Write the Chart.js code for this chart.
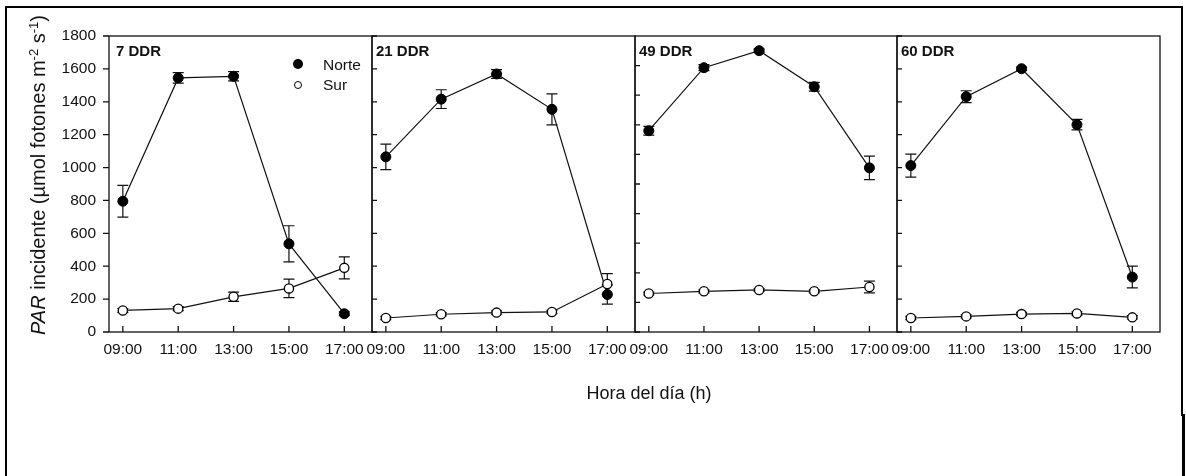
<!DOCTYPE html>
<html>
<head>
<meta charset="utf-8">
<script src="https://cdn.jsdelivr.net/npm/chart.js@4.4.1/dist/chart.umd.min.js"></script>
<style>
  body { margin: 0; background: #fff; font-family: "Liberation Sans", Arial, sans-serif; }
  #fig { position: relative; width: 1186px; height: 476px; overflow: hidden; background: #fff; }
  #fig canvas { position: absolute; left: 0; top: 0; }
  .linea { position: absolute; background: #000; }
  .etiqueta { position: absolute; color: #111; white-space: nowrap; line-height: 1; }
  .panel { font-weight: bold; font-size: 15px; top: 43px; }
  #ytitle { left: 38px; top: 175px; font-size: 20px; transform: translate(-50%, -50%) rotate(-90deg); }
  #ytitle sup { font-size: 0.65em; position: relative; top: -0.55em; vertical-align: baseline; }
  #xtitle { left: 649px; top: 384px; font-size: 18px; transform: translateX(-50%); }
  .ley { font-size: 15.5px; left: 323px; }
  .punto { position: absolute; border-radius: 50%; box-sizing: border-box; }
</style>
</head>
<body>
<div id="fig">
  <div class="linea" style="left:5px; top:6px; width:1178px; height:2px;"></div>
  <div class="linea" style="left:5px; top:6px; width:2px; height:470px;"></div>
  <div class="linea" style="left:1181px; top:6px; width:2px; height:410px;"></div>
  <div class="linea" style="left:1182px; top:414px; width:3px; height:62px;"></div>
  <canvas id="p0" width="1186" height="476"></canvas>
  <canvas id="p1" width="1186" height="476"></canvas>
  <canvas id="p2" width="1186" height="476"></canvas>
  <canvas id="p3" width="1186" height="476"></canvas>
  <div class="etiqueta" id="ytitle"><i>PAR</i> incidente (µmol fotones m<sup>-2</sup> s<sup>-1</sup>)</div>
  <div class="etiqueta" id="xtitle">Hora del día (h)</div>
  <div class="punto" style="left:293px; top:59px; width:10px; height:10px; background:#000;"></div>
  <div class="punto" style="left:294px; top:80.5px; width:8px; height:8px; border:1.2px solid #000;"></div>
  <div class="etiqueta ley" style="top:56.5px;">Norte</div>
  <div class="etiqueta ley" style="top:77px;">Sur</div>
</div>
<script>
// Horas de muestreo y etiquetas del eje x
const horas = [9, 11, 13, 15, 17];
const etiquetasHora = ['09:00', '11:00', '13:00', '15:00', '17:00'];
const titulosPanel = ['7 DDR', '21 DDR', '49 DDR', '60 DDR'];
const ticksY = [0, 200, 400, 600, 800, 1000, 1200, 1400, 1600, 1800];
const maxY = [1800, 1800, 2000, 1800];

// PAR incidente, cara Norte (media y error)
const norte7 = [795, 1545, 1555, 536, 111];
const norte7Err = [97, 32, 28, 110, 12];
const norte21 = [1065, 1416, 1569, 1354, 228];
const norte21Err = [77, 57, 27, 94, 58];
const norte49 = [1360, 1786, 1901, 1657, 1109];
const norte49Err = [30, 20, 10, 30, 80];
const norte60 = [1012, 1431, 1601, 1261, 334];
const norte60Err = [70, 36, 10, 32, 66];

// PAR incidente, cara Sur (media y error)
const sur7 = [131, 142, 214, 265, 390];
const sur7Err = [12, 12, 28, 56, 67];
const sur21 = [85, 108, 118, 122, 292];
const sur21Err = [10, 10, 10, 10, 63];
const sur49 = [260, 275, 284, 275, 304];
const sur49Err = [10, 10, 10, 10, 40];
const sur60 = [85, 95, 109, 113, 89];
const sur60Err = [10, 10, 10, 10, 10];

const norte = [norte7, norte21, norte49, norte60];
const norteErr = [norte7Err, norte21Err, norte49Err, norte60Err];
const sur = [sur7, sur21, sur49, sur60];
const surErr = [sur7Err, sur21Err, sur49Err, sur60Err];

// Bordes de cada panel en la figura (px)
const izq = [109, 372, 635, 897];
const der = [372, 635, 897, 1160];
const arriba = 36;
const abajo = 332;
const anchoEjeY = [60, 10, 10, 10];
const altoEjeX = 30;

Chart.defaults.font.family = '"Liberation Sans", Arial, sans-serif';
Chart.defaults.color = '#111';

// Marco del panel, marcas de los ejes y barras de error
const marcoPlugin = {
  id: 'marco',
  beforeDatasetsDraw(chart, args, opts) {
    const { ctx, chartArea: a, scales: { x, y } } = chart;
    ctx.save();
    ctx.strokeStyle = '#111';
    ctx.lineWidth = 1.3;
    ctx.strokeRect(a.left, a.top, a.right - a.left, a.bottom - a.top);
    ctx.beginPath();
    x.ticks.forEach(t => {
      const px = x.getPixelForValue(t.value);
      ctx.moveTo(px, a.bottom);
      ctx.lineTo(px, a.bottom - 6);
    });
    y.ticks.forEach(t => {
      const py = y.getPixelForValue(t.value);
      ctx.moveTo(a.left, py);
      ctx.lineTo(opts.haciaFuera ? a.left - 6 : a.left + 5, py);
    });
    ctx.stroke();

    // barras de error
    ctx.lineWidth = 1.2;
    ctx.beginPath();
    chart.data.datasets.forEach(ds => {
      ds.data.forEach((p, k) => {
        const px = x.getPixelForValue(p.x);
        const y1 = y.getPixelForValue(p.y + ds.err[k]);
        const y2 = y.getPixelForValue(p.y - ds.err[k]);
        ctx.moveTo(px, y1); ctx.lineTo(px, y2);
        ctx.moveTo(px - 5.5, y1); ctx.lineTo(px + 5.5, y1);
        ctx.moveTo(px - 5.5, y2); ctx.lineTo(px + 5.5, y2);
      });
    });
    ctx.stroke();
    ctx.restore();
  }
};

function crearPanel(i) {
  const puntos = arr => horas.map((h, k) => ({ x: h, y: arr[k] }));
  new Chart(document.getElementById('p' + i), {
    type: 'line',
    data: {
      datasets: [
        {
          label: 'Norte',
          data: puntos(norte[i]),
          err: norteErr[i],
          order: 2,
          borderColor: '#111',
          borderWidth: 1.2,
          pointRadius: 5,
          pointBackgroundColor: '#000',
          pointBorderColor: '#000',
          pointBorderWidth: 1
        },
        {
          label: 'Sur',
          data: puntos(sur[i]),
          err: surErr[i],
          order: 1,
          borderColor: '#111',
          borderWidth: 1.2,
          pointRadius: 4.6,
          pointBackgroundColor: '#fff',
          pointBorderColor: '#000',
          pointBorderWidth: 1.3
        }
      ]
    },
    options: {
      responsive: false,
      animation: false,
      events: [],
      layout: {
        padding: {
          left: izq[i] - anchoEjeY[i],
          right: 1186 - der[i],
          top: arriba,
          bottom: 476 - abajo - altoEjeX
        }
      },
      plugins: {
        legend: { display: false },
        tooltip: { enabled: false },
        marco: { haciaFuera: i === 0 }
      },
      scales: {
        x: {
          type: 'linear',
          min: 8.5,
          max: 18,
          grid: { display: false, drawTicks: false },
          border: { display: false },
          afterBuildTicks: s => { s.ticks = horas.map(v => ({ value: v })); },
          afterFit: s => { s.height = altoEjeX; s.paddingLeft = 0; s.paddingRight = 0; },
          ticks: {
            padding: 8,
            font: { size: 15.5 },
            maxRotation: 0,
            callback: v => etiquetasHora[horas.indexOf(v)]
          }
        },
        y: {
          min: 0,
          max: maxY[i],
          grid: { display: false, drawTicks: false },
          border: { display: false },
          afterBuildTicks: s => { s.ticks = ticksY.map(v => ({ value: v })); },
          afterFit: s => { s.width = anchoEjeY[i]; s.paddingTop = 0; s.paddingBottom = 0; },
          ticks: {
            display: i === 0,
            padding: 13,
            font: { size: 15.5 },
            callback: v => String(v)
          }
        }
      }
    },
    plugins: [marcoPlugin]
  });

  const t = document.createElement('div');
  t.className = 'etiqueta panel';
  t.style.left = (izq[i] + (i === 0 ? 7 : 4)) + 'px';
  t.textContent = titulosPanel[i];
  document.getElementById('fig').appendChild(t);
}

[0, 1, 2, 3].forEach(crearPanel);
</script>
</body>
</html>
